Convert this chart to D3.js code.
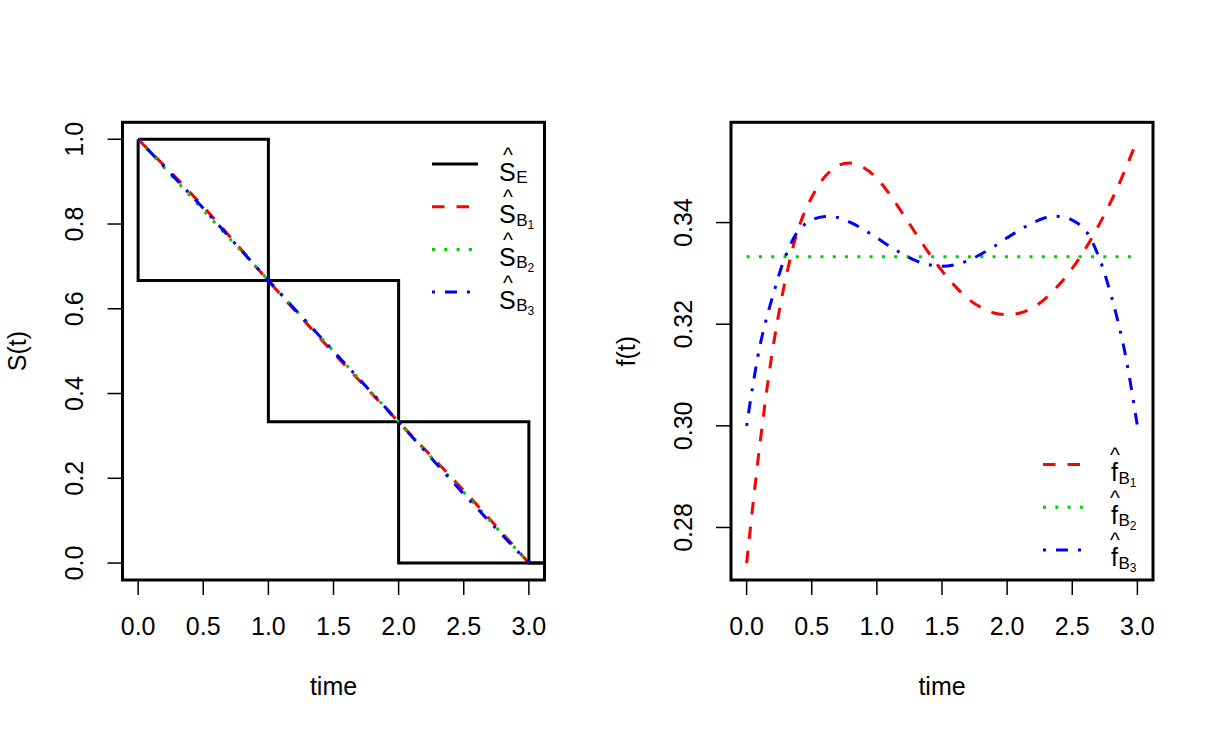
<!DOCTYPE html>
<html>
<head>
<meta charset="utf-8">
<script src="https://cdn.jsdelivr.net/npm/d3@7/dist/d3.min.js"></script>
<style>
  body { margin: 0; background: #fff; }
  text { font-family: "Liberation Sans", Arial, Helvetica, sans-serif; fill: #000; }
</style>
</head>
<body>
<svg id="chart" width="1215" height="734"></svg>
<script>
// ---- data ----
// empirical survival estimate: jump times and levels
var eTime = [0, 1, 2, 3];
var eSurv = [1, 0.6667, 0.3333, 0];

// smoothed survival estimates (left panel)
var sTime = [0, 0.5, 1, 1.5, 2, 2.5, 3];
var sB1 = [1, 0.841, 0.666, 0.496, 0.333, 0.171, 0];
var sB2 = [1, 0.833, 0.667, 0.5, 0.333, 0.167, 0];
var sB3 = [1, 0.837, 0.667, 0.5, 0.333, 0.163, 0];

// density estimates (right panel)
var fTime = [0, 0.1, 0.2, 0.3, 0.4, 0.5, 0.6, 0.7, 0.8, 0.9, 1.0,
             1.1, 1.2, 1.3, 1.4, 1.5, 1.6, 1.7, 1.8, 1.9, 2.0,
             2.1, 2.2, 2.3, 2.4, 2.5, 2.6, 2.7, 2.8, 2.9, 3.0];
var fB1 = [0.273, 0.296, 0.315, 0.329, 0.339, 0.345, 0.349, 0.3512, 0.3517, 0.3508, 0.3487,
           0.3455, 0.3417, 0.3378, 0.3340, 0.3305, 0.3275, 0.3250, 0.3233, 0.3222, 0.3219,
           0.3222, 0.3233, 0.3252, 0.3278, 0.3310, 0.3348, 0.3393, 0.3443, 0.3500, 0.3564];
var fB2 = fTime.map(function() { return 0.3333; });
var fB3 = [0.300, 0.3155, 0.3255, 0.3335, 0.3385, 0.3405, 0.3412, 0.3410, 0.3400, 0.3386, 0.3370,
           0.3353, 0.3338, 0.3325, 0.3317, 0.3314, 0.3317, 0.3325, 0.3338, 0.3353, 0.3370,
           0.3386, 0.3400, 0.3410, 0.3412, 0.3405, 0.3385, 0.3335, 0.3255, 0.3150, 0.300];

var xTicks = [0, 0.5, 1, 1.5, 2, 2.5, 3];
var sTicks = [0, 0.2, 0.4, 0.6, 0.8, 1.0];
var fTicks = [0.28, 0.30, 0.32, 0.34];

// ---- layout ----
var svg = d3.select("#chart");
svg.append("rect").attr("width", 1215).attr("height", 734).attr("fill", "#fff");

var boxTop = 122.3, boxBottom = 580, boxW = 422;
var FS = 25;

// R style 4% padding
function pad(ext) {
  var d = (ext[1] - ext[0]) * 0.04;
  return [ext[0] - d, ext[1] + d];
}

function panel(id, left, yDomain, yTicks, yFmt, yTitle) {
  var x = d3.scaleLinear().domain(pad([0, 3])).range([left, left + boxW]);
  var y = d3.scaleLinear().domain(pad(yDomain)).range([boxBottom, boxTop]);
  var g = svg.append("g");

  g.append("clipPath").attr("id", "clip" + id)
    .append("rect").attr("x", left).attr("y", boxTop)
    .attr("width", boxW).attr("height", boxBottom - boxTop);

  var plot = g.append("g").attr("clip-path", "url(#clip" + id + ")");

  // x axis
  var xa = g.append("g");
  xa.selectAll(".tk").data(xTicks).enter().append("line")
    .attr("x1", d => x(d)).attr("x2", d => x(d))
    .attr("y1", boxBottom).attr("y2", boxBottom + 15)
    .attr("stroke", "#000").attr("stroke-width", 1.5);
  xa.selectAll(".lb").data(xTicks).enter().append("text")
    .attr("x", d => x(d)).attr("y", boxBottom + 55)
    .attr("text-anchor", "middle").attr("font-size", FS)
    .text(d => d3.format(".1f")(d));
  g.append("text")
    .attr("x", left + boxW / 2).attr("y", boxBottom + 115)
    .attr("text-anchor", "middle").attr("font-size", FS)
    .text("time");

  // y axis
  var ya = g.append("g");
  ya.selectAll(".tk").data(yTicks).enter().append("line")
    .attr("x1", left).attr("x2", left - 15)
    .attr("y1", d => y(d)).attr("y2", d => y(d))
    .attr("stroke", "#000").attr("stroke-width", 1.5);
  ya.selectAll(".lb").data(yTicks).enter().append("text")
    .attr("transform", d => "translate(" + (left - 39.5) + "," + y(d) + ") rotate(-90)")
    .attr("text-anchor", "middle").attr("font-size", FS)
    .text(d => d3.format(yFmt)(d));
  g.append("text")
    .attr("transform", "translate(" + (left - 96.5) + "," + ((boxTop + boxBottom) / 2) + ") rotate(-90)")
    .attr("text-anchor", "middle").attr("font-size", FS)
    .text(yTitle);

  // frame
  g.append("rect")
    .attr("x", left).attr("y", boxTop).attr("width", boxW).attr("height", boxBottom - boxTop)
    .attr("fill", "none").attr("stroke", "#000").attr("stroke-width", 3);

  return {x: x, y: y, plot: plot, g: g};
}

var styles = {
  E:  {color: "#000", dash: null},
  B1: {color: "#ff0000", dash: "12.5,12"},
  B2: {color: "#00cd00", dash: "3,9.3"},
  B3: {color: "#0000ff", dash: "3,10,12,10"}
};

function drawLine(p, xs, ys, st, curve) {
  var line = d3.line()
    .x(d => p.x(d[0])).y(d => p.y(d[1]))
    .curve(curve || d3.curveLinear);
  p.plot.append("path")
    .datum(xs.map((t, i) => [t, ys[i]]))
    .attr("d", line)
    .attr("fill", "none")
    .attr("stroke", st.color)
    .attr("stroke-width", 3)
    .attr("stroke-dasharray", st.dash);
}

// hat(letter) with subscript and optional second-level subscript
function hatLabel(g, x, base, letter, sub, subsub) {
  var t = g.append("text").attr("x", x).attr("y", base).attr("font-size", FS).text(letter);
  var w = t.node().getComputedTextLength();
  g.append("text").attr("x", x + w / 2 + 0.5).attr("y", base - 19)
    .attr("text-anchor", "middle").attr("font-size", 21).text("^");
  var s = g.append("text").attr("x", x + w + 0.5).attr("y", base + 2.5)
    .attr("font-size", FS * 0.68).text(sub);
  if (subsub) {
    var sw = s.node().getComputedTextLength();
    g.append("text").attr("x", x + w + 0.5 + sw).attr("y", base + 6)
      .attr("font-size", FS * 0.48).text(subsub);
  }
}

function legend(g, x0, y0, rows, textX) {
  rows.forEach(function(r, i) {
    var yy = y0 + i * 42.7;
    g.append("line")
      .attr("x1", x0).attr("x2", x0 + 46).attr("y1", yy).attr("y2", yy)
      .attr("stroke", r.st.color).attr("stroke-width", 3)
      .attr("stroke-dasharray", r.st.dash);
    hatLabel(g, textX, yy + 16.5, r.letter, r.sub, r.subsub);
  });
}

// ---- left panel: survival ----
var L = panel("L", 122.5, [0, 1], sTicks, ".1f", "S(t)");
var xEnd = L.x.domain()[1];
var upper = eTime.map((t, i) => [t, eSurv[i]]).concat([[xEnd, eSurv[eSurv.length - 1]]]);
var lower = [[eTime[0], eSurv[0]]]
  .concat(eTime.slice(0, 3).map((t, i) => [t, eSurv[i + 1]]))
  .concat([[xEnd, eSurv[eSurv.length - 1]]]);
[upper, lower].forEach(function(pts) {
  L.plot.append("path")
    .datum(pts)
    .attr("d", d3.line().x(d => L.x(d[0])).y(d => L.y(d[1])).curve(d3.curveStepAfter))
    .attr("fill", "none").attr("stroke", "#000").attr("stroke-width", 3);
});
drawLine(L, sTime, sB1, styles.B1, d3.curveMonotoneX);
drawLine(L, sTime, sB2, styles.B2, d3.curveMonotoneX);
drawLine(L, sTime, sB3, styles.B3, d3.curveMonotoneX);

legend(L.g, 432, 164, [
  {st: styles.E,  letter: "S", sub: "E"},
  {st: styles.B1, letter: "S", sub: "B", subsub: "1"},
  {st: styles.B2, letter: "S", sub: "B", subsub: "2"},
  {st: styles.B3, letter: "S", sub: "B", subsub: "3"}
], 499);

// ---- right panel: density ----
var fAll = fB1.concat(fB2, fB3);
var R = panel("R", 731, d3.extent(fAll), fTicks, ".2f", "f(t)");
drawLine(R, fTime, fB1, styles.B1, d3.curveCatmullRom);
drawLine(R, fTime, fB2, styles.B2);
drawLine(R, fTime, fB3, styles.B3, d3.curveCatmullRom);

legend(R.g, 1043, 464.5, [
  {st: styles.B1, letter: "f", sub: "B", subsub: "1"},
  {st: styles.B2, letter: "f", sub: "B", subsub: "2"},
  {st: styles.B3, letter: "f", sub: "B", subsub: "3"}
], 1111);
</script>
</body>
</html>
